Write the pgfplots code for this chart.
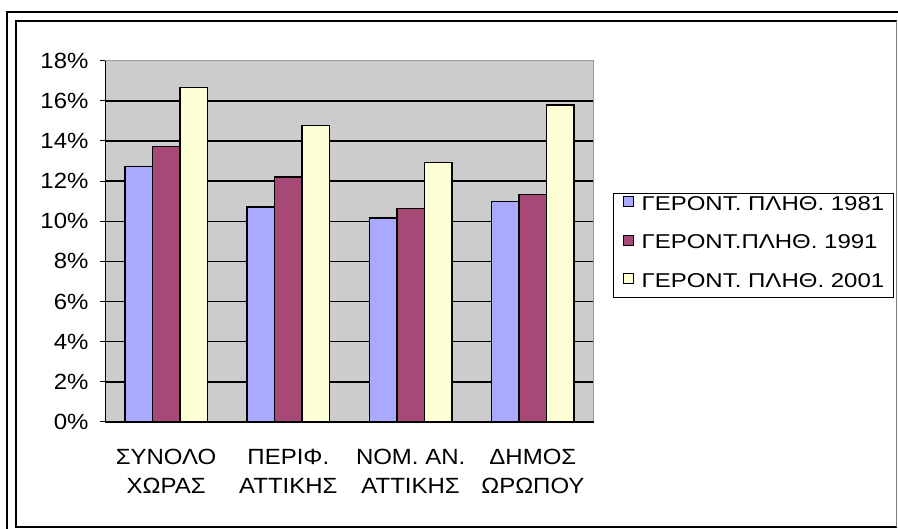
\documentclass[border=0pt]{standalone}
\usepackage{fontspec}
\setmainfont{Liberation Sans}[FakeStretch=1.09]
\newfontfamily\legfont{Liberation Sans}[FakeStretch=1.2]
\usepackage{pgfplots}
\pgfplotsset{compat=1.18}
\definecolor{cA}{RGB}{169,169,255}
\definecolor{cB}{RGB}{166,73,118}
\definecolor{cC}{RGB}{255,255,213}
\definecolor{bgc}{RGB}{204,204,204}
\begin{document}
\begin{tikzpicture}[x=1pt,y=1pt]
\useasboundingbox (0,0) rectangle (898,529);
% frame
\draw[line width=2.5pt] (7,0) -- (7,517) -- (898,517);
\draw[line width=1.6pt] (896.5,508) -- (16,508) -- (16,2) -- (896.5,2);
\draw[line width=1.6pt,gray] (896.5,2) -- (896.5,508);
\begin{axis}[
  at={(105pt,107pt)}, anchor=south west,
  scale only axis, width=489pt, height=361.3pt,
  ybar=0pt, bar width=27.5pt,
  xmin=-0.5, xmax=3.5, ymin=0, ymax=18,
  axis background/.style={fill=bgc},
  axis line style={draw=gray!80, line width=1pt},
  xtick pos=bottom, ytick pos=left,
  xtick={0,1,2,3},
  xticklabels={{ΣΥΝΟΛΟ\\ΧΩΡΑΣ},{ΠΕΡΙΦ.\\ΑΤΤΙΚΗΣ},{ΝΟΜ. ΑΝ.\\ΑΤΤΙΚΗΣ},{ΔΗΜΟΣ\\ΩΡΩΠΟΥ}},
  xticklabel style={align=center, font=\fontsize{22}{28.5}\selectfont, yshift=-19pt},
  x tick style={draw=none},
  extra x ticks={-0.5,0.5,1.5,2.5,3.5},
  extra x tick labels={},
  extra x tick style={tick style={draw=black,line width=1pt}, major tick length=6pt, tick align=outside, grid=none},
  ytick={0,2,...,18},
  yticklabel={\pgfmathprintnumber{\tick}\%},
  /pgf/number format/assume math mode=true,
  yticklabel style={font=\fontsize{22}{26}\selectfont, xshift=-8pt},
  y tick style={draw=black, line width=1pt},
  tick align=outside, major tick length=5pt,
  ymajorgrids, major grid style={draw=black, line width=1.5pt},
  legend image code/.code={\draw[#1,draw=black,line width=0.9pt] (0pt,0pt) rectangle (10pt,10pt);},
  legend style={at={(1.0389,0.489)}, anchor=west, draw=black, line width=1.3pt,
    font=\legfont\fontsize{20}{24}\selectfont, row sep=17.5pt, inner xsep=9pt, inner ysep=3pt,
    nodes={text height=14pt, text depth=7pt, inner xsep=0pt, inner ysep=0pt},
    /tikz/every odd column/.append style={column sep=8pt}},
  legend cell align=left,
  every axis plot/.append style={draw=black, line width=1.3pt},
]
\addplot[fill=cA] coordinates {(0,12.74) (1,10.71) (2,10.17) (3,10.99)};
\addplot[fill=cB] coordinates {(0,13.73) (1,12.2) (2,10.64) (3,11.35)};
\addplot[fill=cC] coordinates {(0,16.68) (1,14.78) (2,12.93) (3,15.8)};
\legend{ΓΕΡΟΝΤ. ΠΛΗΘ. 1981, ΓΕΡΟΝΤ.ΠΛΗΘ. 1991, ΓΕΡΟΝΤ. ΠΛΗΘ. 2001}
\draw[black, line width=1.3pt] (rel axis cs:0,0) -- (rel axis cs:0,1);
\draw[black, line width=1.3pt] (rel axis cs:0,0) -- (rel axis cs:1,0);
\end{axis}
\end{tikzpicture}
\end{document}
